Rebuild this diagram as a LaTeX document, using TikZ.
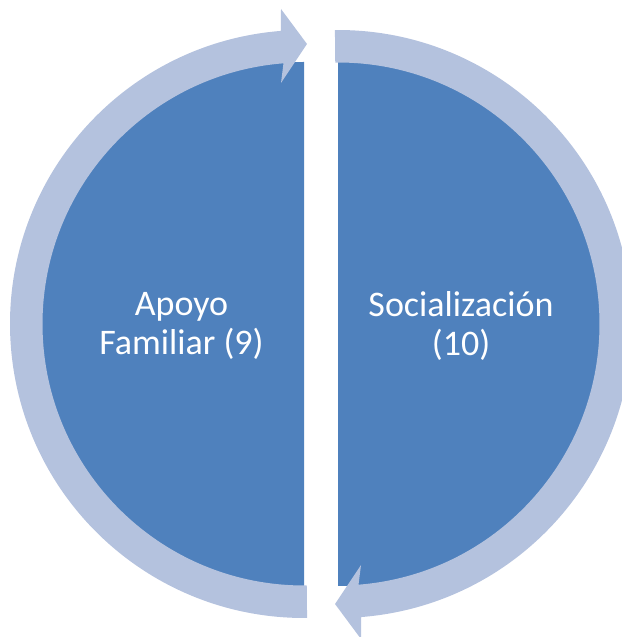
\documentclass[tikz,border=0pt]{standalone}
\usepackage{fontspec}
\setmainfont{Carlito}
\definecolor{halfblue}{RGB}{79,129,189}
\definecolor{ringblue}{RGB}{180,194,222}

\begin{document}
\begin{tikzpicture}[x=1pt, y=1pt,
        halfdisk/.style={fill=halfblue},
        ringarrow/.style={fill=ringblue},
        halftext/.style={text=white, align=center, inner sep=0pt, font=\fontsize{36}{39}\selectfont}]
        \useasboundingbox (0,0) rectangle (621,637);
        % two halves
        \fill[halfdisk] (304,51) arc[start angle=-90, end angle=-270, radius=262] -- cycle;
        \fill[halfdisk] (338,575) arc[start angle=90, end angle=-90, radius=262] -- cycle;
        % circular arrows
        \begin{scope}[shift={(304,313)}]
            \fill[ringarrow] (94.5:294) arc[start angle=94.5, end angle=270.6, radius=294]
                -- (270.6:261.5) arc[start angle=270.6, end angle=94.5, radius=261.5]
                -- (-23,241) -- (3,280) -- (-23,315) -- cycle;
        \end{scope}
        \begin{scope}[shift={(338,313)}, rotate=180]
            \fill[ringarrow] (94.5:294) arc[start angle=94.5, end angle=270.6, radius=294]
                -- (270.6:261.5) arc[start angle=270.6, end angle=94.5, radius=261.5]
                -- (-23,241) -- (3,280) -- (-23,315) -- cycle;
        \end{scope}
        % labels
        \node[halftext] (apoyo) at (181.5,311) {Apoyo\\Familiar (9)};
        \node[halftext] (social) at (461,311) {Socialización\\(10)};
    \end{tikzpicture}
\end{document}
